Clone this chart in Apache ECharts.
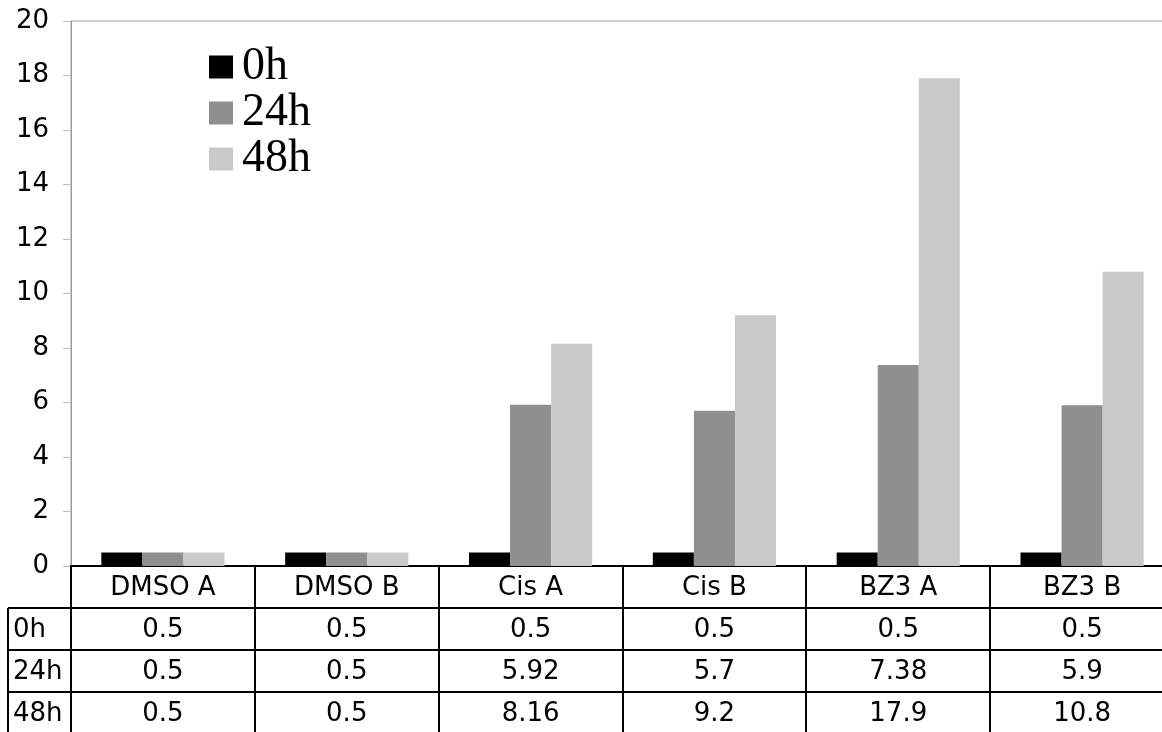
<!DOCTYPE html>
<html><head><meta charset="utf-8">
<script src="https://cdn.jsdelivr.net/npm/echarts@6/dist/echarts.min.js"></script>
<style>html,body{margin:0;padding:0;background:#fff;overflow:hidden}#c{width:1174px;height:732px}</style>
</head><body><div id="c"></div>
<script>
const categories = ['DMSO A', 'DMSO B', 'Cis A', 'Cis B', 'BZ3 A', 'BZ3 B'];
const seriesNames = ['0h', '24h', '48h'];
const values0h = [0.5, 0.5, 0.5, 0.5, 0.5, 0.5];
const values24h = [0.5, 0.5, 5.92, 5.7, 7.38, 5.9];
const values48h = [0.5, 0.5, 8.16, 9.2, 17.9, 10.8];
const yTicks = [0, 2, 4, 6, 8, 10, 12, 14, 16, 18, 20];

const rows = [values0h, values24h, values48h];
const colors = ['#000000', '#8f8f8f', '#c9c9c9'];
const FONT = 'DejaVu Sans';
const FS = 26;
const ROW_H = 42;

const chart = echarts.init(document.getElementById('c'), null, {renderer: 'canvas'});

const xAxes = [{
  type: 'category', data: categories, position: 'bottom', gridIndex: 0,
  axisLine: {show: true, lineStyle: {color: '#000', width: 2}},
  axisTick: {show: false},
  axisLabel: {color: '#000', fontFamily: FONT, fontSize: FS, margin: 9, interval: 0}
}];
rows.forEach((arr, r) => {
  xAxes.push({
    type: 'category', data: categories, position: 'bottom', offset: ROW_H * (r + 1),
    axisLine: {show: false}, axisTick: {show: false}, splitLine: {show: false},
    axisLabel: {color: '#000', fontFamily: FONT, fontSize: FS, margin: 9, interval: 0,
      formatter: (v, i) => String(arr[i])}
  });
});

chart.setOption({
  animation: false,
  backgroundColor: '#fff',
  grid: {left: 71, top: 21, right: 0, height: 545, show: true, borderColor: '#9a9a9a', borderWidth: 1, backgroundColor: 'transparent'},
  legend: {
    orient: 'vertical', left: 209, top: 44, padding: 0, itemWidth: 24, itemHeight: 23, itemGap: 0,
    icon: 'rect',
    textStyle: {fontFamily: 'Liberation Serif', fontSize: 46, color: '#000', lineHeight: 45, padding: [0, 0, 0, 4]},
    data: seriesNames
  },
  xAxis: xAxes,
  yAxis: {
    type: 'value', min: yTicks[0], max: yTicks[yTicks.length - 1], interval: 2,
    axisLine: {show: true, lineStyle: {color: '#9a9a9a', width: 1}},
    axisTick: {show: true, length: 8, lineStyle: {color: '#bbb'}},
    splitLine: {show: false},
    axisLabel: {color: '#000', fontFamily: FONT, fontSize: FS, margin: 22}
  },
  series: rows.map((arr, r) => ({
    name: seriesNames[r], type: 'bar', data: arr, xAxisIndex: 0,
    itemStyle: {color: colors[r]},
    barGap: '0%', barCategoryGap: '33%'
  }))
});

// table grid lines
const px = i => chart.convertToPixel({xAxisIndex: 0}, i);
const y0 = chart.convertToPixel({yAxisIndex: 0}, 0);
const catW = px(1) - px(0);
const left0 = px(0) - catW / 2;
const right0 = px(categories.length - 1) + catW / 2;
const bottomY = 732 + 5;
const tableX = 8;
const g = [];
const ls = {stroke: '#000', lineWidth: 2};
for (let k = 0; k <= categories.length; k++) {
  const x = Math.round(left0 + k * catW);
  g.push({type: 'line', shape: {x1: x, y1: y0, x2: x, y2: bottomY}, style: ls, z: 10});
}
for (let r = 1; r <= rows.length; r++) {
  const y = Math.round(y0 + ROW_H * r);
  g.push({type: 'line', shape: {x1: tableX, y1: y, x2: right0, y2: y}, style: ls, z: 10});
}
g.push({type: 'line', shape: {x1: tableX, y1: y0 + ROW_H, x2: tableX, y2: bottomY}, style: ls, z: 10});
seriesNames.forEach((n, r) => {
  g.push({type: 'text', x: tableX + 5, y: y0 + ROW_H * (r + 1) + ROW_H / 2 + 1,
    style: {text: n, fontFamily: FONT, fontSize: FS, fill: '#000', verticalAlign: 'middle', align: 'left'}, z: 10});
});
chart.setOption({graphic: g});
</script>
</body></html>
